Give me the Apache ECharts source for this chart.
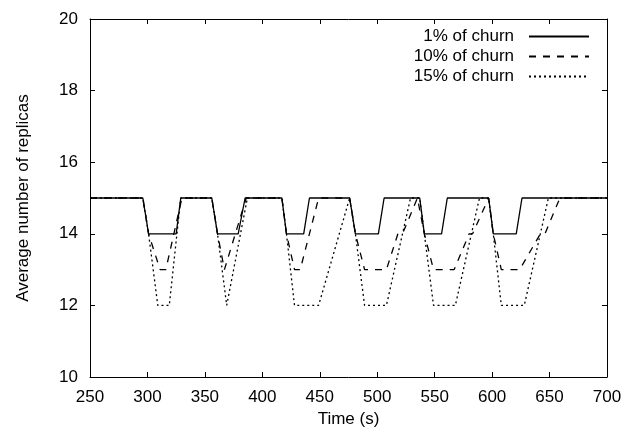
<!DOCTYPE html>
<html>
<head>
<meta charset="utf-8">
<script src="https://cdn.jsdelivr.net/npm/echarts@6/dist/echarts.min.js"></script>
<style>
  html, body { margin: 0; padding: 0; background: #fff; }
  #chart { width: 626px; height: 437px; }
</style>
</head>
<body>
<div id="chart"></div>
<script>
// 横轴刻度 / 纵轴刻度
const xTicks = [250, 300, 350, 400, 450, 500, 550, 600, 650, 700]
const yTicks = [10, 12, 14, 16, 18, 20]

// 1% of churn
const churn1Time = [250, 296, 301, 325, 329, 356, 361, 379, 385, 417, 421, 436, 441, 476, 481, 501, 506, 537, 541, 556, 561, 597, 601, 621, 626, 700]
const churn1Value = [15, 15, 14, 14, 15, 15, 14, 14, 15, 15, 14, 14, 15, 15, 14, 14, 15, 15, 14, 14, 15, 15, 14, 14, 15, 15]

// 10% of churn
const churn10Time = [250, 296, 301, 311, 316, 330, 356, 361, 367, 386, 417, 421, 428, 433, 449, 476, 481, 489, 508, 518, 522, 535, 541, 549, 567, 580, 583, 597, 601, 608, 624, 642, 646, 659, 700]
const churn10Value = [15, 15, 14, 13, 13, 15, 15, 14, 13, 15, 15, 14, 13, 13, 15, 15, 14, 13, 13, 14, 14, 15, 14, 13, 13, 14, 14, 15, 14, 13, 13, 14, 14, 15, 15]

// 15% of churn
const churn15Time = [250, 296, 301, 309, 319, 329, 356, 361, 369, 387, 417, 421, 428, 449, 476, 481, 489, 508, 529, 537, 541, 549, 568, 589, 597, 601, 608, 628, 649, 700]
const churn15Value = [15, 15, 14, 12, 12, 15, 15, 14, 12, 15, 15, 14, 12, 12, 15, 14, 12, 12, 15, 15, 14, 12, 12, 15, 15, 14, 12, 12, 15, 15]

function toPairs(t, v) {
  return t.map((x, i) => [x, v[i]])
}

const chart = echarts.init(document.getElementById('chart'))
const font = 'Liberation Sans, Arial, sans-serif'
const axisStyle = { color: '#000', width: 1 }

const option = {
  animation: false,
  backgroundColor: '#fff',
  textStyle: { fontFamily: font, color: '#000' },
  grid: { left: 90, right: 19, top: 19, bottom: 60 },
  legend: {
    orient: 'vertical',
    right: 31,
    top: 23,
    align: 'right',
    itemWidth: 60,
    itemHeight: 14,
    itemGap: 3,
    // 图例只画线，不画圆点
    itemStyle: { color: 'rgba(0,0,0,0)', borderWidth: 0, opacity: 0 },
    textStyle: { fontSize: 17, color: '#000', fontFamily: font, padding: [0, 10, 0, 0] },
    data: ['1% of churn', '10% of churn', '15% of churn']
  },
  xAxis: [
    {
      type: 'value',
      min: 250,
      max: 700,
      interval: 50,
      position: 'bottom',
      name: 'Time (s)',
      nameLocation: 'middle',
      nameGap: 34,
      nameTextStyle: { fontSize: 17, color: '#000', fontFamily: font },
      axisLine: { show: true, lineStyle: axisStyle },
      axisTick: { show: true, inside: true, length: 5, lineStyle: axisStyle },
      axisLabel: { fontSize: 17, color: '#000', margin: 12, fontFamily: font,
        formatter: v => (xTicks.indexOf(v) >= 0 ? String(v) : '') },
      splitLine: { show: false }
    },
    {
      type: 'value',
      min: 250,
      max: 700,
      interval: 50,
      position: 'top',
      axisLine: { show: true, lineStyle: axisStyle },
      axisTick: { show: true, inside: true, length: 5, lineStyle: axisStyle },
      axisLabel: { show: false },
      splitLine: { show: false }
    }
  ],
  yAxis: [
    {
      type: 'value',
      min: 10,
      max: 20,
      interval: 2,
      position: 'left',
      name: 'Average number of replicas',
      nameLocation: 'middle',
      nameGap: 58,
      nameTextStyle: { fontSize: 17, color: '#000', fontFamily: font },
      axisLine: { show: true, lineStyle: axisStyle },
      axisTick: { show: true, inside: true, length: 5, lineStyle: axisStyle },
      axisLabel: { fontSize: 17, color: '#000', margin: 12, fontFamily: font,
        formatter: v => (yTicks.indexOf(v) >= 0 ? String(v) : '') },
      splitLine: { show: false }
    },
    {
      type: 'value',
      min: 10,
      max: 20,
      interval: 2,
      position: 'right',
      axisLine: { show: true, lineStyle: axisStyle },
      axisTick: { show: true, inside: true, length: 5, lineStyle: axisStyle },
      axisLabel: { show: false },
      splitLine: { show: false }
    }
  ],
  series: [
    {
      name: '1% of churn',
      type: 'line',
      symbol: 'none',
      data: toPairs(churn1Time, churn1Value),
      lineStyle: { color: '#000', width: 1.3, type: 'solid' },
      itemStyle: { color: '#000' },
      z: 5
    },
    {
      name: '10% of churn',
      type: 'line',
      symbol: 'none',
      data: toPairs(churn10Time, churn10Value),
      lineStyle: { color: '#000', width: 1.3, type: [7, 7] },
      itemStyle: { color: '#000' },
      z: 4
    },
    {
      name: '15% of churn',
      type: 'line',
      symbol: 'none',
      data: toPairs(churn15Time, churn15Value),
      lineStyle: { color: '#000', width: 1.3, type: [2, 3] },
      itemStyle: { color: '#000' },
      z: 3
    }
  ]
}

chart.setOption(option)
</script>
</body>
</html>
